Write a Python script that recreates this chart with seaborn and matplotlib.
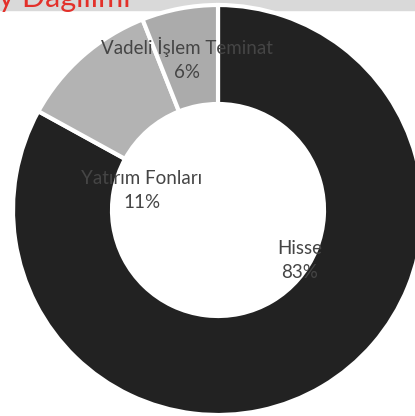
import matplotlib
matplotlib.use("Agg")
import matplotlib.pyplot as plt
import seaborn as sns

# veriler
labels = ["Hisse", "Yatırım Fonları", "Vadeli İşlem Teminat"]
values = [83, 11, 6]
colors = ["#222222", "#b3b3b3", "#ababab"]
title = "Portföy Dağılımı"

sns.set_theme(style="white")
plt.rcParams["font.family"] = ["Lato", "DejaVu Sans"]

W, H = 415, 416
fig = plt.figure(figsize=(W / 100, H / 100), dpi=100)
ax = fig.add_axes([0, 0, 1, 1])

# ust gri bant + kesik baslik
ax.axhspan(H - 10, H, color="#d9d9d9", zorder=0)
ax.text(131, H - 7, title, color="#e3302a", fontsize=22, ha="right",
        va="baseline", zorder=1)

cx, cy = 218, H - 210
R, r_in = 205, 106
wedges, _ = ax.pie(values, colors=colors, startangle=90, counterclock=False,
                   radius=R, center=(cx, cy), frame=True,
                   wedgeprops=dict(width=R - r_in, edgecolor="white", linewidth=3))
for w in wedges:
    w.set_zorder(2)
ax.set_xlim(0, W)
ax.set_ylim(0, H)
ax.set_aspect("equal")
ax.axis("off")

# etiket konumlari (merkeze gore piksel)
label_offsets = [(82, -51), (-76, 19), (-31, 151)]
for lab, v, (dx, dy) in zip(labels, values, label_offsets):
    ax.text(cx + dx, cy + dy, f"{lab}\n{v}%", color="#454545", fontsize=13.5,
            ha="center", va="center", linespacing=1.5, zorder=3)

fig.savefig("out.png", dpi=100)
